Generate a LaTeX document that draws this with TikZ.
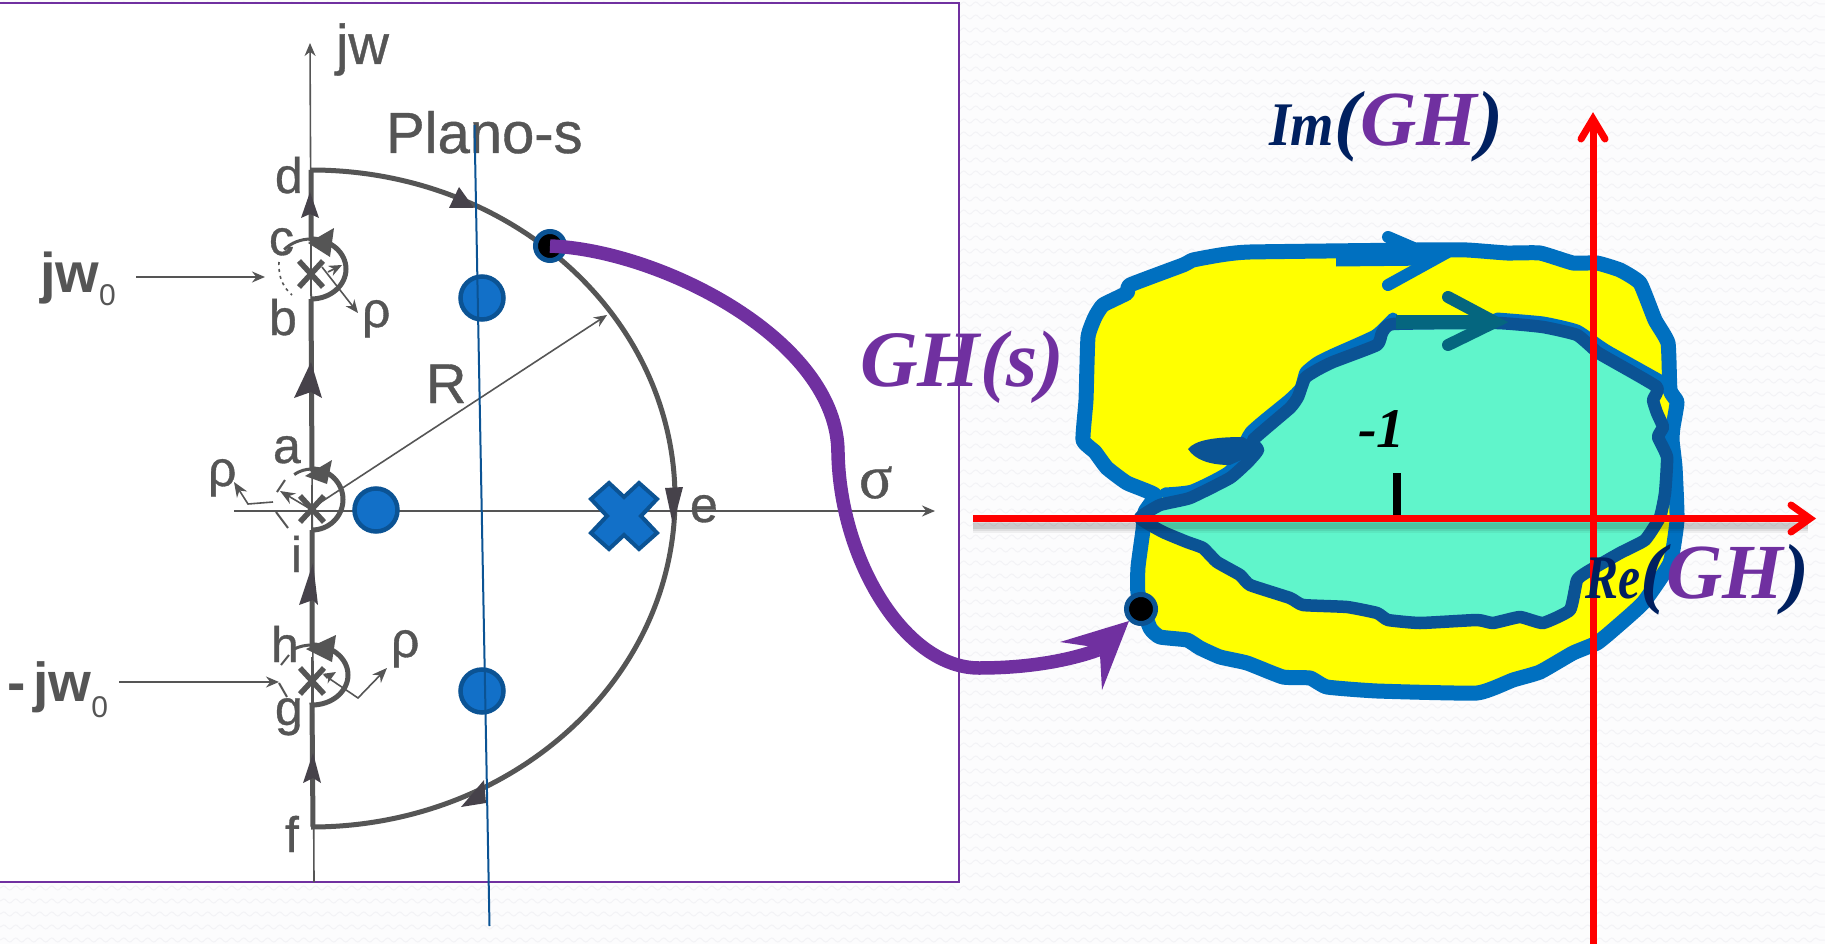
\documentclass[tikz,border=0pt]{standalone}
\usepackage{fontspec}
\usepackage{graphicx}
\setmainfont{Liberation Sans}
\newfontfamily\lserif{Liberation Serif}
\newfontfamily\inkf{Liberation Sans}[FakeBold=0.7]
\newfontfamily\inkserif{Liberation Serif}[FakeBold=0.7]
\newcommand{\pxf}[1]{\fontsize{#1}{#1}\selectfont}
\newcommand{\pxs}[1]{\inkf\fontsize{#1}{#1}\selectfont}
\usetikzlibrary{arrows.meta,decorations.pathmorphing}
\definecolor{pagebg}{HTML}{FCFCFD}
\definecolor{wavecol}{HTML}{F3F3F6}
\definecolor{ink}{HTML}{555555}
\definecolor{inkdark}{HTML}{46424A}
\definecolor{plum}{HTML}{7030A0}
\definecolor{navy}{HTML}{002060}
\definecolor{bluefill}{HTML}{1270C8}
\definecolor{blueedge}{HTML}{0B5394}
\definecolor{outerblue}{HTML}{0070C0}
\definecolor{teal2}{HTML}{05667F}
\definecolor{cyanfill}{HTML}{60F5CB}
\definecolor{yel}{rgb}{1,1,0}
\definecolor{redax}{rgb}{1,0,0}
\tikzset{
 lbl/.style={anchor=base west,inner sep=0pt,outer sep=0pt,text=ink},
 thinline/.style={draw=ink,line width=1.6pt},
 thinarrow/.style={thinline,-{Stealth[length=13pt,width=11pt]}},
 boldline/.style={draw=ink,line width=5pt},
 inkhead/.style={fill=inkdark,draw=none},
 pole/.style={circle,fill=bluefill,draw=blueedge,line width=4.5pt,minimum size=43pt,inner sep=0pt},
 blackdot/.style={circle,fill=black,draw=blueedge,line width=5pt,minimum size=29pt,inner sep=0pt},
 redaxis/.style={draw=redax,line width=7pt,line cap=butt},
 redhead/.style={draw=redax,line width=7pt,line cap=round,line join=miter},
 chevron/.style={line width=12pt,line cap=round,line join=miter},
 wavy/.style={draw=wavecol,line width=1pt,decorate,decoration={snake,segment length=12pt,amplitude=2pt}},
}
\begin{document}
\begin{tikzpicture}[x=1pt,y=1pt,yscale=-1]
\useasboundingbox (0,0) rectangle (1825,944);
\fill[pagebg] (0,0) rectangle (1825,944);
\foreach \r in {0,...,72}{
 \draw[wavy] (0,\r*13+4) -- (1825,\r*13+4);
}
% white sheet
\path[fill=white,draw=plum,line width=1.6pt] (-3,3) rectangle (959,882);

% ----- s-plane
\draw[thinarrow] (314,882) -- (310,43);
\draw[thinarrow] (234,511) -- (935,511);
% bold contour
\draw[boldline] (313,827) -- (312,705) arc[start angle=90,end angle=-90,x radius=36,y radius=30] -- (312,530);
\draw[boldline] (312,530) arc[start angle=90,end angle=-90,x radius=31,y radius=30.5] -- (311,299);
\draw[boldline] (311,299) arc[start angle=90,end angle=-90,x radius=35,y radius=30] -- (311,170);
\draw[boldline] (311,170) arc[start angle=-90,end angle=90,x radius=364,y radius=328.5];
\draw[draw=ink,line width=3pt] (311,239) arc[start angle=-90,end angle=-140,x radius=35,y radius=30];
\draw[draw=ink,line width=3pt] (312,645) arc[start angle=-90,end angle=-120,x radius=36,y radius=30];
\draw[draw=ink,line width=3pt] (312,469) arc[start angle=-90,end angle=-125,x radius=31,y radius=30.5];
% dashed returns of the small circles
\draw[ink,line width=1.6pt,dash pattern=on 3pt off 4pt] (279,262) .. controls (278,278) and (284,288) .. (292,295);
\draw[ink,line width=2pt] (289,655) -- (281,665);
\draw[ink,line width=2pt] (279,683) -- (287,697);
\draw[ink,line width=2pt] (285,480) -- (277,492);
\draw[ink,line width=2pt] (276,512) -- (288,528);
% crosses
\foreach \cx/\cy in {311/274,312/681,312/509}{
 \draw[ink,line width=5.5pt] (\cx-12,\cy-13) -- (\cx+12,\cy+13) (\cx+12,\cy-13) -- (\cx-12,\cy+13);
 \draw[ink,line width=1.4pt] (\cx,\cy-24) -- (\cx,\cy+22);
}
% rho and R arrows
\draw[thinarrow] (322,267) -- (358,313);
\draw[thinarrow] (328,272) -- (342,265);
\draw[thinline,-{Stealth[length=15pt,width=12pt]}] (312,510) -- (280,491);
\draw[thinline,-{Stealth[length=15pt,width=12pt]}] (273,502) -- (248,504) -- (234,482);
\draw[thinline,-{Stealth[length=15pt,width=12pt]}] (324,675) -- (358,698) -- (387,668);
\draw[thinarrow] (326,678) -- (336,672);
\draw[thinarrow] (312,508) -- (607,315);
\draw[thinarrow] (136,277) -- (265,277);
\draw[thinarrow] (119,682) -- (279,682);
% arrowheads on contour
\fill[inkhead] (449,208) -- (459,187) -- (474,208) -- cycle;
\fill[inkhead] (665,488) -- (683,487) -- (673,525) -- cycle;
\fill[inkhead] (461,807) -- (484,780) -- (486,803) -- cycle;
\fill[inkhead] (311,362) -- (322,398) -- (311,392) -- (294,398) -- cycle;
\fill[inkhead] (310,192) -- (319,218) -- (310,214) -- (301,218) -- cycle;
\fill[inkhead] (313,563) -- (318,605) -- (313,600) -- (299,605) -- cycle;
\fill[inkhead] (313,753) -- (321,783) -- (313,778) -- (303,783) -- cycle;
\fill[ink] (308,243) -- (334,228) -- (330,257) -- cycle;
\fill[ink] (306,649) -- (336,635) -- (332,662) -- cycle;
\fill[ink] (305,476) -- (332,460) -- (327,484) -- cycle;
% labels left
\node[lbl,font=\pxs{56}] (jwlab) at (336,64) {jw};
\node[lbl,font=\pxs{58}] (plano) at (386,153) {Plano-s};
\node[lbl,font=\pxs{50}] (ld) at (275,193) {d};
\node[lbl,font=\pxs{50}] (lc) at (269,255) {c};
\node[lbl,font=\pxs{50}] (lb) at (269,335) {b};
\node[lbl,font=\pxs{50}] (la) at (273,463) {a};
\node[lbl,font=\pxs{50}] (li) at (291,572) {i};
\node[lbl,font=\pxs{50}] (lh) at (271,662) {h};
\node[lbl,font=\pxs{50}] (lg) at (275,725) {g};
\node[lbl,font=\pxs{50}] (lf) at (285,852) {f};
\node[lbl,font=\pxs{56}] (lR) at (426,403) {R};
\node[lbl,font=\pxs{50}] (le) at (690,522) {e};
\node[lbl,font=\inkserif\pxf{62}] (lsig) at (859,498) {σ};
\node[lbl,font=\pxs{50}] (lrho1) at (362,327) {ρ};
\node[lbl,font=\pxs{50}] (lrho2) at (208,486) {ρ};
\node[lbl,font=\pxs{50}] (lrho3) at (391,657) {ρ};
\node[lbl,font=\bfseries\pxf{56}] (ljw) at (40,292) {jw\raisebox{-13pt}{\mdseries\pxf{30}0}};
\node[lbl,font=\bfseries\pxf{55}] (lmjw) at (8,701) {-\kern7pt jw\raisebox{-16pt}{\mdseries\pxf{30}0}};

% blue marks
\node[pole] (p1) at (482,298) {};
\node[pole] (p2) at (482,691) {};
\node[pole] (p3) at (376,510) {};
\path[fill=bluefill,draw=blueedge,line width=4pt,line join=miter]
 (624-15,516-33) -- (624,516-19) -- (624+15,516-33) -- (624+33,516-17) -- (624+17,516) -- (624+33,516+17)
 -- (624+15,516+33) -- (624,516+19) -- (624-15,516+33) -- (624-33,516+17) -- (624-17,516) -- (624-33,516-17) -- cycle;
\coordinate (vtop) at (474.5,125);
\coordinate (vbot) at (489.5,926);
\draw[blueedge,line width=2pt] (vtop) -- (vbot);

% ----- GH plane contours
\path[fill=yel] plot[smooth cycle,tension=.25] coordinates {
 (1143,530) (1138,567) (1138,593) (1150,628) (1160,637) (1187,640) (1200,648) (1220,657) (1247,663) (1283,677)
 (1310,678) (1327,687) (1377,691) (1477,693) (1513,680) (1540,672) (1573,653) (1597,643) (1613,630) (1643,603)
 (1670,563) (1677,520) (1675,467) (1672,440) (1673,427) (1677,402) (1670,390) (1668,343) (1655,320) (1640,283)
 (1620,270) (1597,263) (1573,263) (1540,253) (1507,253) (1467,250) (1417,250) (1250,252) (1220,255) (1193,260)
 (1183,265) (1130,285) (1127,293) (1103,305) (1095,317) (1088,337) (1086,400) (1083,440) (1095,452) (1107,468)
 (1127,483) (1155,495) (1145,512)};
\draw[outerblue,line width=15pt,line join=round,line cap=round] plot[smooth cycle,tension=.25] coordinates {
 (1143,530) (1138,567) (1138,593) (1150,628) (1160,637) (1187,640) (1200,648) (1220,657) (1247,663) (1283,677)
 (1310,678) (1327,687) (1377,691) (1477,693) (1513,680) (1540,672) (1573,653) (1597,643) (1613,630) (1643,603)
 (1670,563) (1677,520) (1675,467) (1672,440) (1673,427) (1677,402) (1670,390) (1668,343) (1655,320) (1640,283)
 (1620,270) (1597,263) (1573,263) (1540,253) (1507,253) (1467,250) (1417,250) (1250,252) (1220,255) (1193,260)
 (1183,265) (1130,285) (1127,293) (1103,305) (1095,317) (1088,337) (1086,400) (1083,440) (1095,452) (1107,468)
 (1127,483) (1155,495) (1145,512)};
% lighter strips outside the inner loop
\draw[outerblue,line width=11pt,line cap=round,line join=round] plot[smooth,tension=.3] coordinates {
 (1165,493) (1192,490) (1230,470) (1250,432) (1288,400) (1300,388) (1305,372) (1317,362) (1333,354) (1375,335) (1393,318)};
\draw[outerblue,line width=11pt,line cap=round,line join=round] plot[smooth,tension=.3] coordinates {
 (1497,318) (1543,322) (1577,330) (1599,345) (1610,352) (1660,380) (1668,386)};
% inner loop
\path[fill=cyanfill] plot[smooth cycle,tension=.25] coordinates {
 (1140,518) (1160,505) (1190,498) (1230,478) (1248,462) (1258,450) (1253,440) (1290,408) (1298,397) (1305,378)
 (1317,370) (1333,362) (1377,345) (1382,333) (1393,324) (1497,323) (1543,327) (1577,335) (1597,352) (1607,358)
 (1657,387) (1653,400) (1657,413) (1663,427) (1658,437) (1667,457) (1665,493) (1660,517) (1645,540) (1620,553)
 (1587,572) (1577,580) (1570,610) (1543,623) (1520,617) (1493,623) (1477,620) (1420,623) (1388,620) (1377,613)
 (1347,607) (1303,605) (1290,598) (1250,585) (1240,575) (1217,562) (1203,548) (1187,542) (1163,532)};
\draw[blueedge,line width=12.5pt,line join=round] plot[smooth cycle,tension=.25] coordinates {
 (1140,518) (1160,505) (1190,498) (1230,478) (1248,462) (1258,450) (1253,440) (1290,408) (1298,397) (1305,378)
 (1317,370) (1333,362) (1377,345) (1382,333) (1393,324) (1497,323) (1543,327) (1577,335) (1597,352) (1607,358)
 (1657,387) (1653,400) (1657,413) (1663,427) (1658,437) (1667,457) (1665,493) (1660,517) (1645,540) (1620,553)
 (1587,572) (1577,580) (1570,610) (1543,623) (1520,617) (1493,623) (1477,620) (1420,623) (1388,620) (1377,613)
 (1347,607) (1303,605) (1290,598) (1250,585) (1240,575) (1217,562) (1203,548) (1187,542) (1163,532)};
% direction marks
\fill[blueedge] (1188,449) .. controls (1195,440) and (1215,437) .. (1243,437) -- (1264,450) -- (1230,465) .. controls (1210,465) and (1195,460) .. cycle;
\draw[outerblue,line width=15pt] (1336,259) -- (1432,258);
\draw[outerblue,chevron] (1388,237) -- (1437,258) -- (1388,285);
\draw[teal2,line width=14pt] (1396,322) -- (1490,322);
\draw[teal2,chevron] (1448,297) -- (1495,322) -- (1448,345);

% shadows and red axes
\foreach \w/\op in {14/.05,10/.07,6/.09}{
 \draw[black,opacity=\op,line width=\w pt] (973,526) -- (1808,526);
}
\draw[black,line width=8pt] (1397,473) -- (1397,518);
\draw[redaxis] (973,518.5) -- (1808,518.5);
\coordinate (reTip) at (1810,518.5);
\draw[redhead] (1791,505) -- (reTip) -- (1791,532);
\draw[redaxis] (1593,944) -- (1593,122);
\coordinate (imTip) at (1593,119);
\draw[redhead] (1581,139) -- (imTip) -- (1605,139);

% black points and purple map
\node[blackdot] (dotS) at (550,246) {};
\node[blackdot] (dotT) at (1141,609) {};
\coordinate (purpleEnd) at (1098,650);
\draw[plum,line width=13.5pt] (dotS.center) .. controls (660,250) and (838,340) .. (838,453)
 .. controls (840,560) and (905,668) .. (979,668) .. controls (1030,668) and (1070,660) .. (purpleEnd);
\fill[plum] (dotT.225) -- (1060,642) -- (1087,646) -- (1100,655) -- (1102,690) -- cycle;

% texts right
\node[lbl,text=plum,font=\lserif\bfseries\itshape\pxf{80}] (ghs) at (860,386) {GH(s)};
\node[lbl,font=\lserif\bfseries\itshape\pxf{78}] (imgh) at (1269,146) {\textcolor{navy}{\scalebox{.9}[1]{\pxf{62}Im}(}\textcolor{plum}{GH}\textcolor{navy}{)}};
\node[lbl,font=\lserif\bfseries\itshape\pxf{78}] (regh) at (1585,598) {\textcolor{navy}{\scalebox{.8}[1]{\pxf{62}Re}(}\textcolor{plum}{GH}\textcolor{navy}{)}};
\node[lbl,text=black,font=\lserif\bfseries\itshape\pxf{56}] (mone) at (1358,447) {-1};
\end{tikzpicture}
\end{document}
